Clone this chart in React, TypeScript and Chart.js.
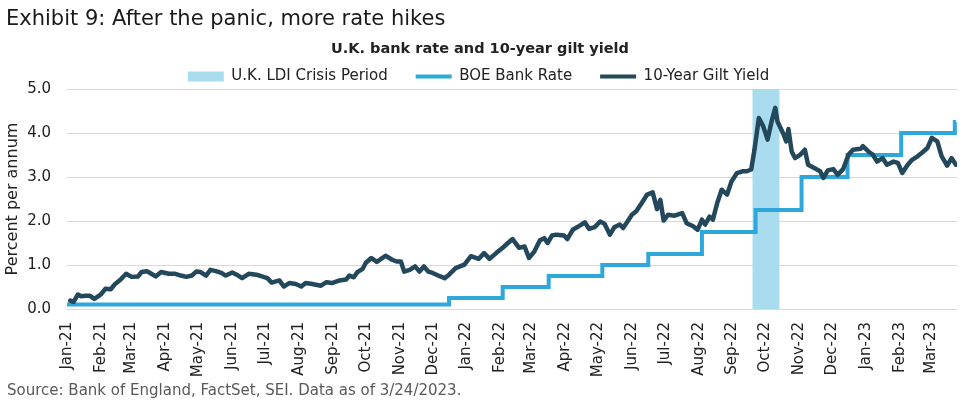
import React, { useEffect, useRef } from 'react';
import { Chart, registerables } from 'chart.js';

Chart.register(...registerables);

const FONT = '"DejaVu Sans", Verdana, sans-serif';

const titleText = 'Exhibit 9: After the panic, more rate hikes';
const subtitleText = 'U.K. bank rate and 10-year gilt yield';
const sourceText = 'Source: Bank of England, FactSet, SEI. Data as of 3/24/2023.';
const yAxisTitle = 'Percent per annum';
const seriesNames = ['U.K. LDI Crisis Period', 'BOE Bank Rate', '10-Year Gilt Yield'];

const axisStart = '2021-01-01';
const axisEnd = '2023-03-25';

const monthTickDates = [
  '2021-01-01', '2021-02-01', '2021-03-01', '2021-04-01', '2021-05-01', '2021-06-01',
  '2021-07-01', '2021-08-01', '2021-09-01', '2021-10-01', '2021-11-01', '2021-12-01',
  '2022-01-01', '2022-02-01', '2022-03-01', '2022-04-01', '2022-05-01', '2022-06-01',
  '2022-07-01', '2022-08-01', '2022-09-01', '2022-10-01', '2022-11-01', '2022-12-01',
  '2023-01-01', '2023-02-01', '2023-03-01',
];
const monthTickLabels = [
  'Jan-21', 'Feb-21', 'Mar-21', 'Apr-21', 'May-21', 'Jun-21', 'Jul-21', 'Aug-21', 'Sep-21',
  'Oct-21', 'Nov-21', 'Dec-21', 'Jan-22', 'Feb-22', 'Mar-22', 'Apr-22', 'May-22', 'Jun-22',
  'Jul-22', 'Aug-22', 'Sep-22', 'Oct-22', 'Nov-22', 'Dec-22', 'Jan-23', 'Feb-23', 'Mar-23',
];

const yMin = 0;
const yMax = 5;
const yStep = 1;

const crisisStart = '2022-09-19';
const crisisEnd = '2022-10-14';
const crisisTop = 5;

const bankRateDates = [
  '2021-01-01', '2021-12-16', '2022-02-03', '2022-03-17', '2022-05-05', '2022-06-16',
  '2022-08-04', '2022-09-22', '2022-11-03', '2022-12-15', '2023-02-02', '2023-03-23', '2023-03-24',
];
const bankRateValues = [0.1, 0.25, 0.5, 0.75, 1.0, 1.25, 1.75, 2.25, 3.0, 3.5, 4.0, 4.25, 4.25];

const giltDates = [
  '2021-01-04', '2021-01-07', '2021-01-11', '2021-01-14', '2021-01-18', '2021-01-22', '2021-01-26',
  '2021-02-01', '2021-02-05', '2021-02-10', '2021-02-14', '2021-02-19', '2021-02-24',
  '2021-03-01', '2021-03-07', '2021-03-10', '2021-03-15', '2021-03-19', '2021-03-23', '2021-03-28',
  '2021-04-04', '2021-04-10', '2021-04-15', '2021-04-20', '2021-04-25', '2021-04-29',
  '2021-05-03', '2021-05-08', '2021-05-12', '2021-05-17', '2021-05-22', '2021-05-26',
  '2021-06-01', '2021-06-05', '2021-06-10', '2021-06-16', '2021-06-23', '2021-06-28',
  '2021-07-03', '2021-07-07', '2021-07-14', '2021-07-18', '2021-07-23', '2021-07-29',
  '2021-08-03', '2021-08-07', '2021-08-13', '2021-08-21', '2021-08-26', '2021-08-31',
  '2021-09-07', '2021-09-13', '2021-09-16', '2021-09-20', '2021-09-23', '2021-09-28',
  '2021-10-01', '2021-10-06', '2021-10-11', '2021-10-19', '2021-10-25', '2021-10-29',
  '2021-11-02', '2021-11-05', '2021-11-10', '2021-11-15', '2021-11-19', '2021-11-23', '2021-11-27',
  '2021-12-01', '2021-12-08', '2021-12-12', '2021-12-16', '2021-12-22', '2021-12-30',
  '2022-01-05', '2022-01-12', '2022-01-17', '2022-01-22', '2022-01-28',
  '2022-02-03', '2022-02-06', '2022-02-12', '2022-02-18', '2022-02-23', '2022-02-27',
  '2022-03-04', '2022-03-09', '2022-03-13', '2022-03-16', '2022-03-20', '2022-03-24', '2022-03-31',
  '2022-04-03', '2022-04-08', '2022-04-14', '2022-04-19', '2022-04-23', '2022-04-28',
  '2022-05-03', '2022-05-07', '2022-05-12', '2022-05-16', '2022-05-21', '2022-05-24', '2022-05-28',
  '2022-06-01', '2022-06-05', '2022-06-10', '2022-06-15', '2022-06-20', '2022-06-24', '2022-06-27', '2022-06-30',
  '2022-07-04', '2022-07-10', '2022-07-17', '2022-07-21', '2022-07-27', '2022-07-31',
  '2022-08-04', '2022-08-07', '2022-08-11', '2022-08-14', '2022-08-18', '2022-08-22', '2022-08-27', '2022-08-31',
  '2022-09-05', '2022-09-10', '2022-09-14', '2022-09-18', '2022-09-21', '2022-09-25', '2022-09-29',
  '2022-10-03', '2022-10-07', '2022-10-10', '2022-10-12', '2022-10-17', '2022-10-20', '2022-10-22',
  '2022-10-25', '2022-10-28',
  '2022-11-02', '2022-11-06', '2022-11-09', '2022-11-15', '2022-11-20', '2022-11-23', '2022-11-27',
  '2022-12-02', '2022-12-06', '2022-12-11', '2022-12-16', '2022-12-20', '2022-12-27', '2022-12-29',
  '2023-01-03', '2023-01-07', '2023-01-11', '2023-01-16', '2023-01-20', '2023-01-26', '2023-01-30',
  '2023-02-03', '2023-02-08', '2023-02-12', '2023-02-17', '2023-02-21', '2023-02-26',
  '2023-03-02', '2023-03-07', '2023-03-11', '2023-03-16', '2023-03-20', '2023-03-24',
];
const giltYields = [
  0.19, 0.16, 0.33, 0.29, 0.30, 0.30, 0.23,
  0.33, 0.46, 0.45, 0.57, 0.67, 0.80,
  0.73, 0.74, 0.84, 0.86, 0.80, 0.74, 0.84,
  0.80, 0.80, 0.76, 0.73, 0.76, 0.85,
  0.84, 0.76, 0.89, 0.86, 0.82, 0.76,
  0.83, 0.78, 0.70, 0.80, 0.78, 0.74,
  0.70, 0.60, 0.65, 0.51, 0.59, 0.57,
  0.51, 0.59, 0.57, 0.53, 0.61, 0.59,
  0.65, 0.67, 0.76, 0.72, 0.83, 0.91,
  1.05, 1.16, 1.07, 1.21, 1.12, 1.08,
  1.08, 0.85, 0.89, 0.97, 0.85, 0.97, 0.85,
  0.82, 0.74, 0.70, 0.78, 0.93, 1.01,
  1.20, 1.14, 1.27, 1.14, 1.27,
  1.39, 1.46, 1.59, 1.39, 1.42, 1.16,
  1.31, 1.56, 1.61, 1.50, 1.67, 1.69, 1.67,
  1.59, 1.80, 1.89, 1.97, 1.82, 1.86,
  1.99, 1.94, 1.69, 1.86, 1.92, 1.84, 1.99,
  2.14, 2.22, 2.41, 2.60, 2.65, 2.27, 2.48, 2.01,
  2.14, 2.12, 2.18, 1.95, 1.88, 1.80,
  2.03, 1.92, 2.10, 2.03, 2.41, 2.71, 2.60, 2.90,
  3.09, 3.13, 3.13, 3.17, 3.62, 4.34, 4.15,
  3.85, 4.30, 4.57, 4.26, 4.00, 3.81, 4.09,
  3.58, 3.43,
  3.51, 3.62, 3.28, 3.20, 3.13, 2.98, 3.15,
  3.18, 3.05, 3.18, 3.51, 3.62, 3.64, 3.70,
  3.58, 3.51, 3.35, 3.43, 3.28, 3.35, 3.32,
  3.09, 3.28, 3.39, 3.47, 3.55, 3.66,
  3.89, 3.81, 3.47, 3.26, 3.43, 3.28,
];

const COLORS = {
  band: '#a9dcef',
  bank: '#2ea8da',
  gilt: '#23475b',
  grid: '#d9d9d9',
  text: '#222222',
  title: '#1a1a1a',
  source: '#595959',
};

const dayNum = (s: string) =>
  Date.UTC(+s.slice(0, 4), +s.slice(5, 7) - 1, +s.slice(8, 10)) / 86400000;

const textPlugin = {
  id: 'exhibitTexts',
  afterDraw(chart: any) {
    const ctx = chart.ctx;
    ctx.save();
    ctx.textBaseline = 'alphabetic';
    ctx.textAlign = 'left';
    ctx.fillStyle = COLORS.title;
    ctx.font = `21px ${FONT}`;
    ctx.fillText(titleText, 6, 25);
    ctx.textAlign = 'center';
    ctx.fillStyle = COLORS.text;
    ctx.font = `bold 14.5px ${FONT}`;
    ctx.fillText(subtitleText, 480, 53);
    ctx.textAlign = 'left';
    ctx.fillStyle = COLORS.source;
    ctx.font = `15px ${FONT}`;
    ctx.fillText(sourceText, 7, 395);
    ctx.restore();
  },
};

export default function App() {
  const canvasRef = useRef<HTMLCanvasElement | null>(null);

  useEffect(() => {
    if (!canvasRef.current) return;
    const tickLabelMap = new Map<number, string>();
    monthTickDates.forEach((d, i) => tickLabelMap.set(dayNum(d), monthTickLabels[i]));

    const chart = new Chart(canvasRef.current, {
      type: 'line',
      data: {
        datasets: [
          {
            label: seriesNames[0],
            data: [
              { x: dayNum(crisisStart), y: crisisTop },
              { x: dayNum(crisisEnd), y: crisisTop },
            ],
            fill: 'origin',
            backgroundColor: COLORS.band,
            borderColor: 'rgba(0,0,0,0)',
            borderWidth: 0,
            pointRadius: 0,
            order: 3,
            legendFill: COLORS.band,
            legendStroke: COLORS.band,
            legendLineWidth: 0,
            legendStyle: 'rect',
          } as any,
          {
            label: seriesNames[1],
            data: bankRateDates.map((d, i) => ({ x: dayNum(d), y: bankRateValues[i] })),
            stepped: 'before',
            borderColor: COLORS.bank,
            backgroundColor: COLORS.bank,
            borderWidth: 4,
            pointRadius: 0,
            fill: false,
            order: 2,
            legendFill: COLORS.bank,
            legendStroke: COLORS.bank,
            legendLineWidth: 4,
            legendStyle: 'line',
          } as any,
          {
            label: seriesNames[2],
            data: giltDates.map((d, i) => ({ x: dayNum(d), y: giltYields[i] })),
            borderColor: COLORS.gilt,
            backgroundColor: COLORS.gilt,
            borderWidth: 4.5,
            borderJoinStyle: 'round',
            borderCapStyle: 'round',
            pointRadius: 0,
            tension: 0,
            fill: false,
            order: 1,
            legendFill: COLORS.gilt,
            legendStroke: COLORS.gilt,
            legendLineWidth: 4,
            legendStyle: 'line',
          } as any,
        ],
      },
      options: {
        responsive: false,
        animation: false,
        devicePixelRatio: 1,
        layout: { padding: { top: 41, left: 0, right: 22, bottom: 0 } },
        plugins: {
          tooltip: { enabled: false },
          title: { display: false },
          legend: {
            position: 'top',
            maxHeight: 48,
            labels: {
              font: { family: FONT, size: 15 },
              color: COLORS.text,
              usePointStyle: true,
              pointStyleWidth: 36,
              boxHeight: 10,
              padding: 28,
              generateLabels: (c: any) =>
                c.data.datasets.map((ds: any, i: number) => ({
                  text: ds.label,
                  datasetIndex: i,
                  hidden: false,
                  fillStyle: ds.legendFill,
                  strokeStyle: ds.legendStroke,
                  lineWidth: ds.legendLineWidth,
                  pointStyle: ds.legendStyle,
                  fontColor: COLORS.text,
                  lineCap: 'butt',
                })),
            },
          },
        } as any,
        scales: {
          x: {
            type: 'linear',
            min: dayNum(axisStart),
            max: dayNum(axisEnd),
            afterBuildTicks: (scale: any) => {
              scale.ticks = monthTickDates.map((d) => ({ value: dayNum(d) }));
            },
            afterFit: (scale: any) => {
              scale.height = 104;
            },
            ticks: {
              autoSkip: false,
              maxRotation: 90,
              minRotation: 90,
              padding: 13,
              color: COLORS.text,
              font: { family: FONT, size: 15 },
              callback: (v: any) => tickLabelMap.get(Number(v)) ?? '',
            },
            grid: { display: false, drawTicks: false },
            border: { display: false },
          },
          y: {
            min: yMin,
            max: yMax,
            afterFit: (scale: any) => {
              scale.width = 67;
            },
            ticks: {
              stepSize: yStep,
              padding: 16,
              color: COLORS.text,
              font: { family: FONT, size: 15 },
              callback: (v: any) => Number(v).toFixed(1),
            },
            grid: { color: COLORS.grid, lineWidth: 1, drawTicks: false },
            border: { display: false },
            title: {
              display: true,
              text: yAxisTitle,
              color: COLORS.text,
              font: { family: FONT, size: 16 },
              padding: { top: 3, bottom: 0 },
            },
          },
        } as any,
      },
      plugins: [textPlugin],
    });

    return () => chart.destroy();
  }, []);

  return (
    <div style={{ position: 'absolute', left: 0, top: 0, width: 979, height: 413, background: '#fff' }}>
      <canvas ref={canvasRef} width={979} height={413} style={{ display: 'block' }} />
    </div>
  );
}
